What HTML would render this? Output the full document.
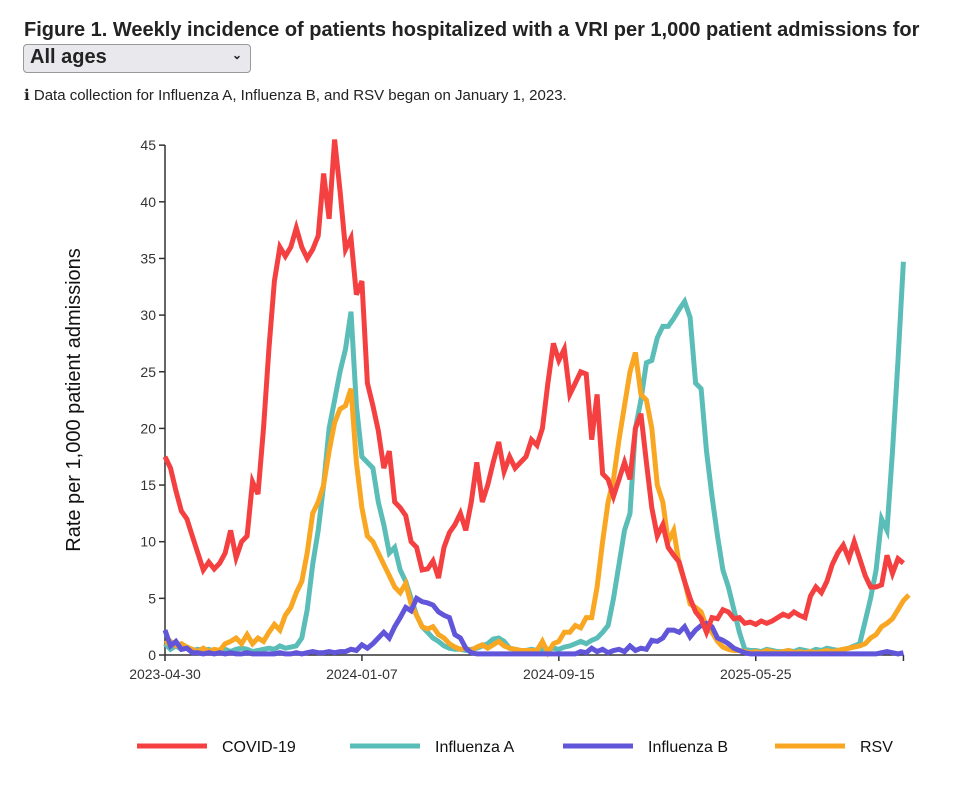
<!DOCTYPE html>
<html><head><meta charset="utf-8"><style>
body{margin:0;width:975px;height:787px;background:#fff;font-family:"Liberation Sans",sans-serif;overflow:hidden;position:relative}
#title{position:absolute;left:24px;top:19px;font-size:20px;font-weight:bold;color:#222;white-space:nowrap}
#sel{position:absolute;left:23px;top:44px;width:228px;height:29px;border:1px solid #999;border-radius:4px;background:#e9e9ed;font-size:20px;font-weight:bold;color:#222;box-sizing:border-box;padding:1px 6px}
#sel span{position:absolute;right:8px;top:3px;font-size:12px}
#info{position:absolute;left:24px;top:86px;font-size:15px;color:#222}
svg{position:absolute;left:0;top:0}
</style></head><body>
<div id="title">Figure 1. Weekly incidence of patients hospitalized with a VRI per 1,000 patient admissions for</div>
<div id="sel">All ages<span>⌄</span></div>
<div id="info">ℹ Data collection for Influenza A, Influenza B, and RSV began on January 1, 2023.</div>
<svg id="chart" width="975" height="787"></svg>
<script>
const xTickLabels=["2023-04-30","2024-01-07","2024-09-15","2025-05-25"];
const xTickWeeks=[0,36,72,108];
const yTicks=[0,5,10,15,20,25,30,35,40,45];
const seriesNames=["COVID-19","Influenza A","Influenza B","RSV"];
const covid=[17.5,16.5,14.5,12.7,12,10.5,9,7.5,8.2,7.6,8.1,9,11,8.6,10,10.5,15.3,14.2,20,27,33,36,35.2,36,37.7,36,35,35.8,37,42.5,38.5,45.5,41,35.8,36.8,31.8,33,24,22,19.8,16.5,18,13.5,13,12.3,10,9.5,7.5,7.6,8.3,6.8,9.5,10.8,11.5,12.5,11,13.5,17,13.5,15,17,18.8,16.2,17.5,16.5,17,17.5,19,18.5,20,24,27.5,26,27,23,24,25,24.8,19,23,16,15.5,14,15.5,17,15.5,20,21.3,17,13,10.5,11.5,9.5,8.8,8.2,6.5,5,3.8,3.2,2,3.3,3.2,4,3.8,3.2,3.3,2.8,2.9,2.7,3,2.8,3,3.3,3.6,3.4,3.8,3.5,3.3,5.2,6,5.5,6.5,8,9,9.7,8.5,10,8.5,7,6,6,6.2,8.8,7.2,8.5,8.1];
const fluA=[1,0.5,0.8,0.5,0.6,0.4,0.5,0.4,0.5,0.3,0.4,0.5,0.3,0.5,0.6,0.5,0.3,0.4,0.5,0.6,0.5,0.8,0.6,0.7,0.8,1.5,4,8,11,15,20,22.5,25,27,30.3,22,17.5,17,16.5,13.5,11.5,9,9.5,7.5,6.5,5,3.5,2.5,2,1.5,1.2,0.8,0.6,0.5,0.5,0.4,0.5,0.6,0.8,1,1.4,1.5,1.2,0.6,0.5,0.4,0.4,0.5,0.4,0.5,0.5,0.6,0.5,0.7,0.8,1,1.2,1,1.3,1.5,2,2.6,5,8,11,12.5,20,22.5,25.8,26,28,29,29,29.7,30.5,31.2,29.8,24,23.5,18,14,10.5,7.5,6,4,2,0.5,0.4,0.4,0.3,0.5,0.4,0.3,0.3,0.4,0.3,0.5,0.4,0.3,0.5,0.4,0.6,0.5,0.4,0.5,0.6,0.8,1,3,5,7.5,12,11,18,26,34.7];
const fluB=[2.2,0.8,1.2,0.5,0.6,0.2,0.2,0.1,0.2,0.1,0.2,0.1,0.2,0.1,0.1,0.2,0.1,0.1,0.1,0.1,0.1,0.2,0.1,0.1,0.2,0.1,0.2,0.3,0.2,0.2,0.3,0.2,0.3,0.3,0.5,0.4,0.9,0.6,1,1.5,2,1.5,2.5,3.3,4.2,3.9,5,4.7,4.6,4.4,3.8,3.5,3.3,1.8,1.5,0.6,0.2,0.1,0.1,0.1,0.1,0.1,0.1,0.1,0.1,0.1,0.1,0.1,0.1,0.1,0.1,0.1,0.1,0.1,0.1,0.1,0.3,0.2,0.6,0.3,0.5,0.2,0.4,0.5,0.3,0.8,0.4,0.6,0.5,1.3,1.2,1.5,2.2,2.2,2,2.5,1.6,2.2,2.6,2.8,2.5,1.5,1.3,1,0.6,0.4,0.2,0.1,0.1,0.1,0.1,0.1,0.1,0.1,0.1,0.1,0.1,0.1,0.1,0.1,0.1,0.1,0.1,0.1,0.1,0.1,0.1,0.1,0.1,0.1,0.1,0.2,0.3,0.2,0.1,0.2];
const rsv=[1,1.2,0.8,1,0.7,0.5,0.3,0.6,0.3,0.5,0.4,1,1.2,1.5,1,1.8,1,1.5,1.2,2,2.7,2.2,3.5,4.2,5.5,6.5,9,12.5,13.5,15,18,20.5,21.7,22,23.5,17,13,10.5,10,9,8,7,6,5.5,6.3,4.5,3.5,2.5,2.3,2.5,1.8,1.5,1,0.7,0.5,0.6,0.4,0.7,0.9,0.6,0.9,1.2,0.8,0.6,0.5,0.4,0.4,0.4,0.4,1.2,0.2,1,1.2,2,2,2.6,2.4,3.3,3.3,6,10,13.5,15.5,19,22,25,26.7,23,22.5,20,15,13.5,10,11,8,6.5,4.5,4.2,3.8,2.5,2,1.2,0.7,0.5,0.4,0.4,0.3,0.2,0.3,0.2,0.4,0.3,0.2,0.3,0.4,0.2,0.3,0.2,0.3,0.2,0.3,0.4,0.3,0.4,0.5,0.6,0.7,0.8,1,1.5,1.8,2.5,2.8,3.2,4,4.8,5.3];
const x0=165,wk=5.47,y0=655,yk=11.33;
const X=i=>x0+i*wk, Y=v=>y0-v*yk;
const svg=document.getElementById('chart'),NS='http://www.w3.org/2000/svg';
function mk(t,a,p){const e=document.createElementNS(NS,t);for(const k in a)e.setAttribute(k,a[k]);(p||svg).appendChild(e);return e;}
const yAxis=mk('line',{x1:x0,y1:145,x2:x0,y2:y0,stroke:'#333','stroke-width':1.5});


const xAxis=mk('line',{x1:x0,y1:y0,x2:X(135),y2:y0,stroke:'#333','stroke-width':1.5});


mk('line',{x1:X(135),y1:y0,x2:X(135),y2:y0+6,stroke:'#333','stroke-width':1.5});
yTicks.forEach(v=>{mk('line',{x1:x0-6,y1:Y(v),x2:x0,y2:Y(v),stroke:'#333','stroke-width':1.5});
const t=mk('text',{x:x0-9,y:Y(v)+5,'text-anchor':'end','font-size':14,fill:'#333'});t.textContent=v;

});
xTickWeeks.forEach((w,i)=>{mk('line',{x1:X(w),y1:y0,x2:X(w),y2:y0+6,stroke:'#333','stroke-width':1.5});
const t=mk('text',{x:X(w),y:y0+24,'text-anchor':'middle','font-size':14,fill:'#333'});t.textContent=xTickLabels[i];

});
const yl=mk('text',{transform:'translate(80,400) rotate(-90)','text-anchor':'middle','font-size':20,fill:'#111'});yl.textContent='Rate per 1,000 patient admissions';


const colors=['#f44040','#5bbdb7','#6155d9','#f9a623'];
const data=[covid,fluA,fluB,rsv];
const order=[1,3,2,0];
order.forEach(s=>{const p=mk('path',{d:data[s].map((v,i)=>(i?'L':'M')+X(i).toFixed(1)+','+Y(v).toFixed(1)).join(''),fill:'none',stroke:colors[s],'stroke-width':5,'stroke-linejoin':'miter'});

});
const lx=[137,350,563,775];
seriesNames.forEach((n,i)=>{const g=mk('g',{});


mk('line',{x1:lx[i],y1:746,x2:lx[i]+70,y2:746,stroke:colors[i],'stroke-width':5},g);
const t=mk('text',{x:lx[i]+85,y:752,'font-size':16,fill:'#111'},g);t.textContent=n;});
</script>
</body></html>
